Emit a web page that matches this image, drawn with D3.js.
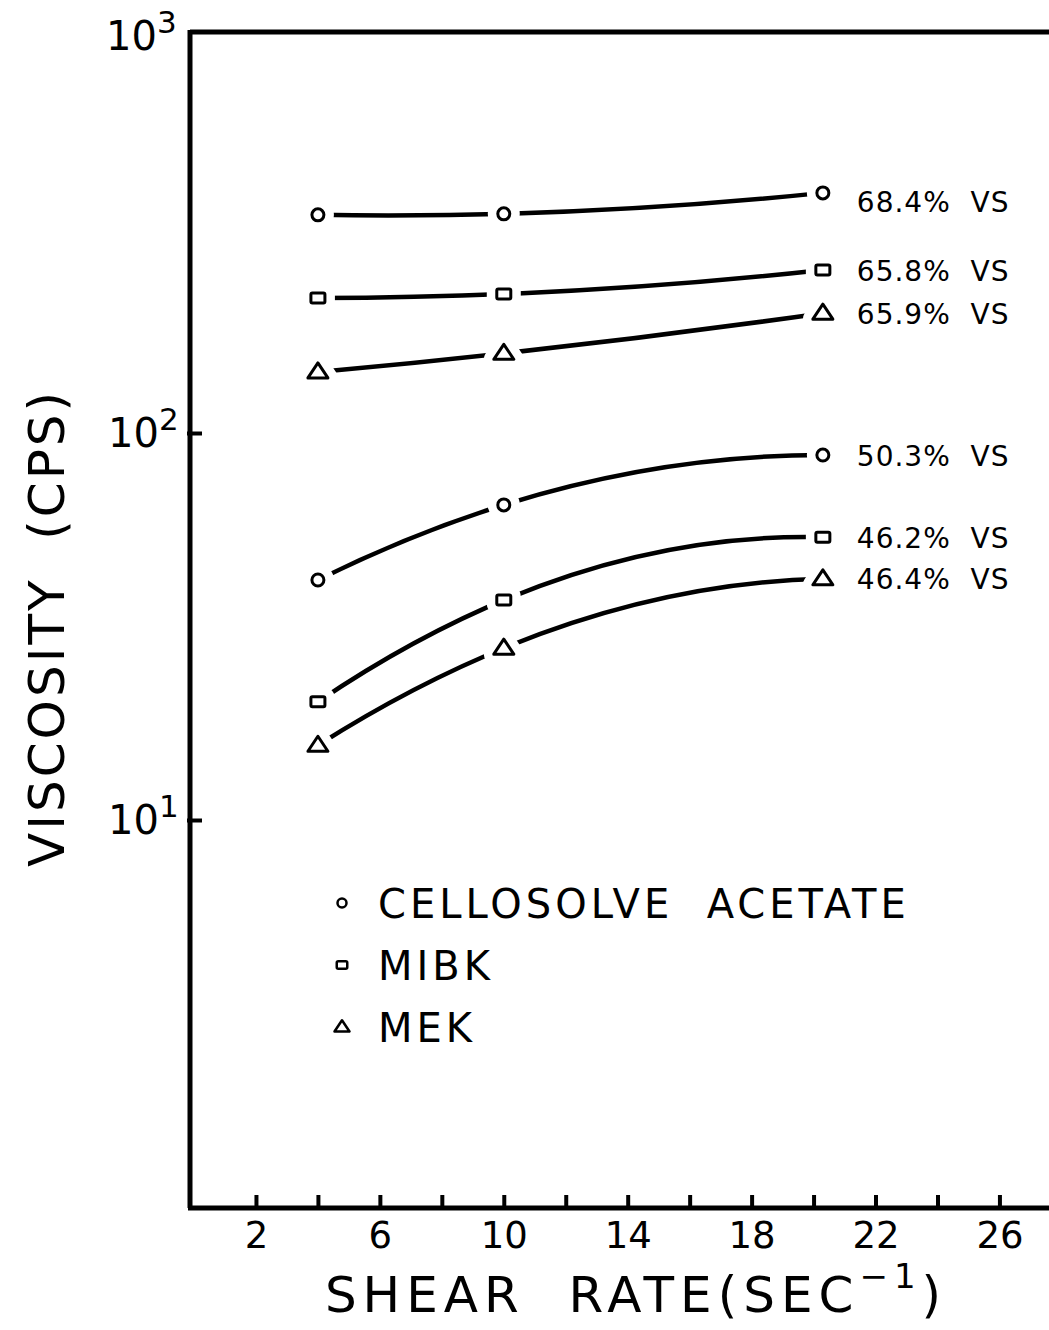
<!DOCTYPE html>
<html>
<head>
<meta charset="utf-8">
<script src="https://cdn.jsdelivr.net/npm/d3@7"></script>
<style>
  body { margin: 0; background: #fff; }
  svg { display: block; }
  text { font-family: "DejaVu Sans", sans-serif; fill: #000; }
</style>
</head>
<body>
<div id="chart"></div>
<script>
// shear rate (sec^-1) of the three measured points
const shearRate = [4, 10, 20.3];

// viscosity (cps)
const ca684 = [350, 352, 397];
const mibk658 = [217, 222, 255];
const mek659 = [142, 158, 199];
const ca503 = [41.7, 65.2, 87.7];
const mibk462 = [20.2, 37, 53.8];
const mek464 = [15.6, 27.8, 42];

const seriesLabels = ["68.4% VS", "65.8% VS", "65.9% VS", "50.3% VS", "46.2% VS", "46.4% VS"];
const seriesSolvent = ["CA", "MIBK", "MEK", "CA", "MIBK", "MEK"];

const legendNames = ["CELLOSOLVE  ACETATE", "MIBK", "MEK"];
const legendSolvent = ["CA", "MIBK", "MEK"];

const xTicks = [2, 4, 6, 8, 10, 12, 14, 16, 18, 20, 22, 24, 26];
const xTickLabels = [2, 6, 10, 14, 18, 22, 26];
const yTicks = [10, 100, 1000];
const yTickExp = ["1", "2", "3"];

const width = 1049, height = 1330;

const svg = d3.select("#chart")
    .append("svg")
    .attr("width", width)
    .attr("height", height);

// plot frame
const pLeft = 190, pTop = 32, pBottom = 1208, pRight = 1049;

const x = d3.scaleLinear()
    .domain([0, 27.6])
    .range([194, pRight]);

// hand-drawn decades are not quite equal, so a piecewise log scale
const y = d3.scaleLog()
    .domain([1, 10, 100, 1000])
    .range([pBottom, 820, 433, pTop]);

const values = [ca684, mibk658, mek659, ca503, mibk462, mek464];

// the hand drawn curves look like a parabola through the 3 points,
// so a small curve factory: one quadratic bezier through all of them
function curveParabola(context) {
    let pts = [];
    return {
        areaStart() {}, areaEnd() {},
        lineStart() { pts = []; },
        point(px, py) { pts.push([px, py]); },
        lineEnd() {
            const [a, b, c] = pts;
            const f = t =>
                a[1] * (t - b[0]) * (t - c[0]) / ((a[0] - b[0]) * (a[0] - c[0])) +
                b[1] * (t - a[0]) * (t - c[0]) / ((b[0] - a[0]) * (b[0] - c[0])) +
                c[1] * (t - a[0]) * (t - b[0]) / ((c[0] - a[0]) * (c[0] - b[0]));
            const xm = (a[0] + c[0]) / 2;
            context.moveTo(a[0], a[1]);
            context.quadraticCurveTo(xm, 2 * f(xm) - (a[1] + c[1]) / 2, c[0], c[1]);
        }
    };
}

// markers
function marker(sel, kind, s) {
    if (kind == "CA") {
        return sel.append("circle").attr("r", 6 * s);
    } else if (kind == "MIBK") {
        return sel.append("rect")
            .attr("x", -7 * s).attr("y", -5 * s)
            .attr("width", 14 * s).attr("height", 10 * s)
            .attr("rx", 1.5);
    } else {
        const w = 10 * s, h = 15 * s;
        return sel.append("path")
            .attr("d", `M0,${-h * 0.6}L${w},${h * 0.4}L${-w},${h * 0.4}Z`)
            .attr("stroke-linejoin", "round");
    }
}

// frame lines
svg.append("line")
    .attr("x1", pLeft).attr("x2", pRight)
    .attr("y1", pTop).attr("y2", pTop)
    .attr("stroke", "#000").attr("stroke-width", 5);

svg.append("line")
    .attr("x1", pLeft).attr("x2", pLeft)
    .attr("y1", pTop - 2).attr("y2", pBottom)
    .attr("stroke", "#000").attr("stroke-width", 5);

// x axis
const xAxis = svg.append("g")
    .attr("transform", `translate(0,${pBottom})`)
    .call(d3.axisBottom(x)
        .tickValues(xTicks)
        .tickSize(-13)
        .tickFormat(d => xTickLabels.includes(d) ? d : ""));

xAxis.select(".domain")
    .attr("d", `M${pLeft - 2},0H${pRight}`)
    .attr("stroke-width", 5);
xAxis.selectAll(".tick line").attr("stroke-width", 4);
xAxis.selectAll(".tick text")
    .attr("y", 14)
    .attr("dy", "0.71em")
    .style("font-size", "37px")
    .style("font-family", "DejaVu Sans, sans-serif");

// y ticks
const yAxis = svg.append("g")
    .attr("transform", `translate(${pLeft},0)`)
    .call(d3.axisRight(y).tickValues([10, 100]).tickSize(12).tickFormat(""));
yAxis.select(".domain").remove();
yAxis.selectAll(".tick line").attr("stroke-width", 4).attr("x1", -3);

const yLab = svg.append("g").selectAll("text")
    .data(yTicks)
    .enter()
    .append("text")
    .attr("x", (d, i) => i == 2 ? 106 : 108)
    .attr("y", d => y(d) + (d == 1000 ? 18 : 14))
    .style("font-size", "40px");
yLab.append("tspan").text("10");
yLab.append("tspan")
    .attr("dy", -17)
    .style("font-size", "31px")
    .text((d, i) => yTickExp[i]);

// curves
const line = d3.line()
    .x((d, i) => x(shearRate[i]))
    .y(d => y(d))
    .curve(curveParabola);

svg.append("g")
    .selectAll("path")
    .data(values)
    .enter()
    .append("path")
    .attr("d", d => line(d))
    .attr("fill", "none")
    .attr("stroke", "#000")
    .attr("stroke-width", 4.5)
    .attr("stroke-linecap", "round");

// points, with a white halo to leave a gap in the line
values.forEach((vals, k) => {
    vals.forEach((v, i) => {
        const g = svg.append("g")
            .attr("transform", `translate(${x(shearRate[i])},${y(v)})`);
        marker(g, seriesSolvent[k], 1)
            .attr("fill", "#fff").attr("stroke", "#fff").attr("stroke-width", 20);
        marker(g, seriesSolvent[k], 1)
            .attr("fill", "#fff").attr("stroke", "#000").attr("stroke-width", 3);
    });
});

// series labels
svg.append("g")
    .selectAll("text")
    .data(seriesLabels)
    .enter()
    .append("text")
    .attr("x", x(shearRate[2]) + 34)
    .attr("y", (d, i) => y(values[i][2]) + (i == 0 ? 8 : 0))
    .attr("dy", "0.38em")
    .style("font-size", "28px")
    .style("letter-spacing", "1px")
    .attr("xml:space", "preserve")
    .text(d => d.replace(" ", "  "));

// legend
const leg = svg.append("g")
    .selectAll("g")
    .data(legendNames)
    .enter()
    .append("g")
    .attr("transform", (d, i) => `translate(342,${903 + i * 62})`);

leg.each(function (d, i) {
    marker(d3.select(this), legendSolvent[i], 0.75)
        .attr("fill", "#fff").attr("stroke", "#000").attr("stroke-width", 2.5);
});

leg.append("text")
    .attr("x", 36)
    .attr("dy", "0.38em")
    .attr("xml:space", "preserve")
    .style("font-size", "40px")
    .style("letter-spacing", "4px")
    .text(d => d);

// axis titles
svg.append("text")
    .attr("transform", "translate(64,628) rotate(-90)")
    .attr("text-anchor", "middle")
    .style("font-size", "50px")
    .style("letter-spacing", "3px")
    .attr("xml:space", "preserve")
    .text("VISCOSITY  (CPS)");

const xt = svg.append("text")
    .attr("x", 636)
    .attr("y", 1312)
    .attr("text-anchor", "middle")
    .attr("xml:space", "preserve")
    .style("font-size", "50px")
    .style("letter-spacing", "6px");
xt.append("tspan").text("SHEAR  RATE(SEC");
xt.append("tspan").attr("dy", -24).style("font-size", "34px").text("−1");
xt.append("tspan").attr("dy", 24).text(")");
</script>
</body>
</html>
